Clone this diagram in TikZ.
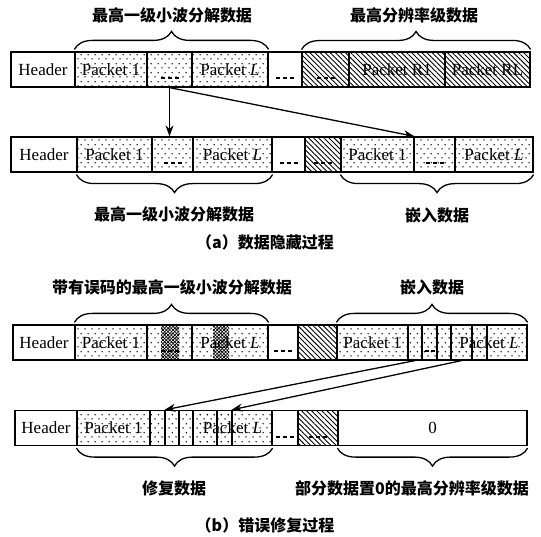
\documentclass[tikz,border=0pt]{standalone}
\usepackage{fontspec}
\setmainfont{Liberation Serif}
\newfontfamily\cjk{Noto Sans CJK SC}
\usetikzlibrary{patterns,patterns.meta,decorations.pathreplacing,arrows.meta}
\pgfdeclarepatternformonly{sparsedots}{\pgfqpoint{0pt}{0pt}}{\pgfqpoint{7pt}{9pt}}{\pgfqpoint{7pt}{9pt}}{%
  \pgfpathcircle{\pgfqpoint{1.2pt}{1.2pt}}{0.85pt}%
  \pgfpathcircle{\pgfqpoint{4.7pt}{5.7pt}}{0.85pt}%
  \pgfusepath{fill}}
\newcommand\cellat[6]{\node[cellbox,#5,minimum width={#3-#2}] (#1) at ({(#2+#3)/2},#4) {#6};}
\newcommand\dotsbot{\raisebox{-10pt}[0pt][0pt]{\rule{4pt}{2pt}\hspace{3pt}\rule{4pt}{2pt}\hspace{3pt}\rule{4pt}{2pt}}}
\tikzset{
  cellbox/.style={draw,line width=1.2pt,inner sep=0pt,minimum height=35,font=\fontsize{17}{17}\selectfont},
  plainf/.style={fill=white},
  dotf/.style={pattern=sparsedots},
  hatf/.style={pattern={Lines[angle=-45,distance=3.6pt,line width=0.9pt]}},
  xhatf/.style={draw=none,minimum height=33,pattern={Lines[angle=45,distance=2.4pt,line width=0.7pt]},
    postaction={pattern={Lines[angle=-45,distance=2.4pt,line width=0.7pt]}}},
  brc/.style={decorate,decoration={brace,amplitude=18pt,raise=2pt},line width=1.3pt},
  lbl/.style={font=\cjk\bfseries\fontsize{16}{16}\selectfont,inner sep=0pt},
  arr/.style={line width=1.3pt,-{Stealth[length=11pt,width=8pt]}},
  txt/.style={font=\fontsize{17}{17}\selectfont,inner sep=0pt}
}
\begin{document}
\begin{tikzpicture}[x=1pt,y=-1pt]
\fill[white] (0,0) rectangle (541,537);
% ---------- row 1 ----------
\cellat{a1h}{11}{75}{69.5}{plainf}{Header}
\cellat{a1p1}{75}{147}{69.5}{dotf}{Packet 1}
\cellat{a1d}{147}{192}{69.5}{dotf}{\dotsbot}
\cellat{a1pL}{192}{268}{69.5}{dotf}{Packet \textit{L}}
\cellat{a1w}{268}{302}{69.5}{plainf}{\dotsbot}
\cellat{a1hd}{302}{349}{69.5}{hatf}{\dotsbot}
\cellat{a1r1}{349}{445}{69.5}{hatf}{Packet R1}
\cellat{a1rL}{445}{530}{69.5}{hatf}{Packet RL}
\draw[brc] (a1p1.north west) -- (a1pL.north east);
\draw[brc] (a1hd.north west) -- (a1rL.north east);
\node[lbl] (la1) at (172,15) {最高一级小波分解数据};
\node[lbl] (la2) at (414,15) {最高分辨率级数据};
% ---------- row 2 ----------
\cellat{b2h}{11}{77}{154.5}{plainf}{Header}
\cellat{b2p1}{77}{152}{154.5}{dotf}{Packet 1}
\cellat{b2d}{152}{193}{154.5}{dotf}{\dotsbot}
\cellat{b2pL}{193}{272}{154.5}{dotf}{Packet \textit{L}}
\cellat{b2w}{272}{305}{154.5}{plainf}{\dotsbot}
\cellat{b2hd}{305}{341}{154.5}{hatf}{\dotsbot}
\cellat{b2e1}{341}{414}{154.5}{dotf}{Packet 1}
\cellat{b2ed}{414}{455}{154.5}{dotf}{\dotsbot}
\cellat{b2eL}{455}{533}{154.5}{dotf}{Packet \textit{L}}
\draw[arr] (a1d.south) -- (a1d.south |- b2d.north);
\draw[arr] (a1d.south) -- (b2e1.north east);
\draw[brc] (b2pL.south east) -- (b2p1.south west);
\draw[brc] (b2eL.south east) -- (b2e1.south west);
\node[lbl] (lb1) at (174,214) {最高一级小波分解数据};
\node[lbl] (lb2) at (437,215) {嵌入数据};
\node[lbl] (capa) at (265,242) {（a）数据隐藏过程};
% ---------- row 3 ----------
\cellat{c3h}{13}{75}{342.5}{plainf}{Header}
\cellat{c3p1}{75}{147}{342.5}{dotf}{Packet 1}
\cellat{c3d}{147}{192}{342.5}{dotf}{\dotsbot}
\cellat{c3pL}{192}{268}{342.5}{dotf}{Packet \textit{L}}
\cellat{c3x1}{161}{179}{342.5}{xhatf}{}
\cellat{c3x2}{213}{229}{342.5}{xhatf}{}
\cellat{c3w}{268}{298}{342.5}{plainf}{\dotsbot}
\cellat{c3hd}{298}{337}{342.5}{hatf}{}
\cellat{c3e1}{337}{408}{342.5}{dotf}{Packet 1}
\cellat{c3s1}{408}{422}{342.5}{dotf}{}
\cellat{c3s2}{422}{437}{342.5}{dotf}{\raisebox{-10pt}[0pt][0pt]{\rule{4pt}{2pt}\hspace{2pt}\rule{4pt}{2pt}}}
\cellat{c3s3}{437}{451}{342.5}{dotf}{}
\cellat{c3t1}{451}{472}{342.5}{dotf}{}
\cellat{c3t2}{472}{487}{342.5}{dotf}{}
\cellat{c3t3}{487}{527}{342.5}{dotf}{}
\node[txt] (c3tx) at (489,342.5) {Packet \textit{L}};
\draw[brc] (c3p1.north west) -- (c3pL.north east);
\draw[brc] (c3e1.north west) -- (c3t3.north east);
\node[lbl] (lc1) at (172,287) {带有误码的最高一级小波分解数据};
\node[lbl] (lc2) at (432,287) {嵌入数据};
% ---------- row 4 ----------
\cellat{d4h}{15}{77}{428}{plainf}{Header}
\cellat{d4p1}{77}{150}{428}{dotf}{Packet 1}
\cellat{d4s1}{150}{165}{428}{dotf}{}
\cellat{d4s2}{165}{179}{428}{dotf}{}
\cellat{d4s3}{179}{193}{428}{dotf}{}
\cellat{d4t1}{193}{217}{428}{dotf}{}
\cellat{d4t2}{217}{232}{428}{dotf}{}
\cellat{d4t3}{232}{272}{428}{dotf}{}
\node[txt] (d4tx) at (232.5,428) {Packet \textit{L}};
\cellat{d4w}{272}{298}{428}{plainf}{\dotsbot}
\cellat{d4hd}{298}{338}{428}{hatf}{\dotsbot}
\cellat{d4z}{338}{527}{428}{plainf}{0}
\draw[arr] (c3s1.south) -- (d4s2.north west);
\draw[arr] (c3t1.south) -- (d4t3.north west);
\draw[brc] (d4t3.south east) -- (d4p1.south west);
\draw[brc] (d4z.south east) -- (d4z.south west);
\node[lbl] (ld1) at (174,488) {修复数据};
\node[lbl] (ld2) at (412,488) {部分数据置0的最高分辨率级数据};
\node[lbl] (capb) at (265,525) {（b）错误修复过程};
\end{tikzpicture}
\end{document}
